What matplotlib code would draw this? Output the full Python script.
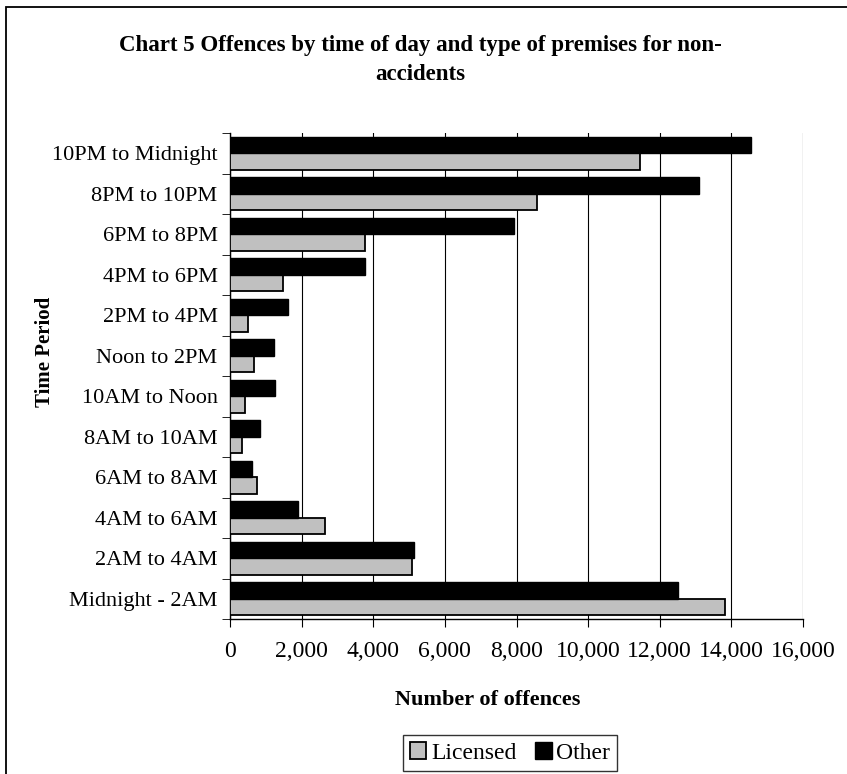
import matplotlib
matplotlib.use("Agg")
import matplotlib.pyplot as plt
from matplotlib.patches import Rectangle
import numpy as np

periods = ["Midnight - 2AM", "2AM to 4AM", "4AM to 6AM", "6AM to 8AM", "8AM to 10AM",
           "10AM to Noon", "Noon to 2PM", "2PM to 4PM", "4PM to 6PM", "6PM to 8PM",
           "8PM to 10PM", "10PM to Midnight"]
licensed = [13830, 5090, 2640, 760, 340, 420, 660, 490, 1480, 3780, 8560, 11440]
other = [12520, 5130, 1890, 610, 850, 1270, 1240, 1620, 3770, 7930, 13100, 14560]
x_ticks = [0, 2000, 4000, 6000, 8000, 10000, 12000, 14000, 16000]

SERIF = ["Liberation Serif", "DejaVu Serif"]
plt.rcParams["font.family"] = SERIF

W, H = 847, 774
fig = plt.figure(figsize=(W / 100, H / 100), dpi=100)

# outer chart frame (runs off the right and bottom edges)
fig.patches.append(Rectangle((6 / W, -0.05), 1.1, 1 - 7 / H + 0.05,
                             transform=fig.transFigure, fill=False,
                             edgecolor="black", linewidth=1.3))

ax = fig.add_axes([230 / W, 1 - 619 / H, 573 / W, 486 / H])

y = np.arange(len(periods))
h = 0.41
ax.barh(y - h / 2, licensed, height=h, color="#c0c0c0", edgecolor="black",
        linewidth=1.3, zorder=3)
ax.barh(y + h / 2, other, height=h, color="black", edgecolor="black",
        linewidth=1.0, zorder=3)

ax.set_xlim(0, 16000)
ax.set_ylim(-0.5, len(periods) - 0.5)
ax.set_xticks(x_ticks)
ax.set_xticklabels([f"{v:,}" for v in x_ticks], fontsize=17, family=SERIF)
ax.set_yticks(y)
ax.set_yticklabels(periods, fontsize=16, family=SERIF)
ax.tick_params(axis="y", length=0, pad=9)
ax.set_yticks(np.arange(-0.5, len(periods), 1), minor=True)
ax.tick_params(axis="y", which="minor", length=6, direction="out")
ax.tick_params(axis="x", length=6, direction="out", pad=10)
ax.xaxis.grid(True, color="black", linewidth=0.8, zorder=0)
for s in ["top", "right"]:
    ax.spines[s].set_visible(False)
for s in ["left", "bottom"]:
    ax.spines[s].set_linewidth(1.0)

fig.text(488 / W, 1 - 700 / H, "Number of offences", fontsize=16,
         fontweight="bold", ha="center", va="center")
fig.text(45 / W, 1 - 352 / H, "Time Period", rotation=90, fontsize=15,
         fontweight="bold", ha="center", va="center")

fig.text(420 / W, 1 - 60 / H,
         "Chart 5 Offences by time of day and type of premises for non-\naccidents",
         ha="center", va="center", fontsize=16.5, fontweight="bold", linespacing=1.5)

handles = [Rectangle((0, 0), 1, 1, facecolor="#c0c0c0", edgecolor="black", linewidth=1.3),
           Rectangle((0, 0), 1, 1, facecolor="black", edgecolor="black")]
leg = fig.legend(handles, ["Licensed", "Other"], loc="center", ncol=2,
                 bbox_to_anchor=(510 / W, 1 - 753 / H), frameon=True, fancybox=False,
                 edgecolor="black", prop={"family": SERIF, "size": 17},
                 handlelength=0.7, handleheight=0.7, handletextpad=0.2,
                 columnspacing=0.8, borderpad=0.3, borderaxespad=0.0)
leg.get_frame().set_linewidth(1.0)

fig.savefig("out.png", dpi=100)
